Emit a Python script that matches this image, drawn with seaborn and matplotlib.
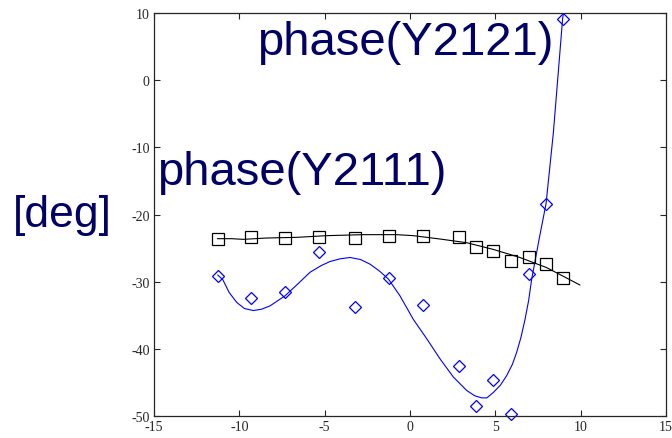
import pandas as pd
import matplotlib.pyplot as plt
import seaborn as sns

# measured points
x_pts = [-11.27, -9.31, -7.32, -5.31, -3.22, -1.21, 0.74, 2.85, 3.87, 4.88, 5.92, 6.95, 7.97, 8.96]
y2111 = [-23.6, -23.3, -23.5, -23.3, -23.5, -23.2, -23.2, -23.3, -24.9, -25.4, -26.9, -26.3, -27.4, -29.5]
y2121 = [-29.2, -32.4, -31.6, -25.6, -33.8, -29.5, -33.4, -42.5, -48.5, -44.7, -49.65, -28.9, -18.5, 9.1]

# fitted curves
fit1_x = [-11.29, -10.45, -9.77, -8.4, -6.64, -4.88, -2.73, -0.78, 0.19, 1.76, 3.32, 4.88, 6.44, 8.0, 9.96]
fit1_y = [-23.6, -23.6, -23.7, -23.5, -23.4, -23.15, -23.0, -23.0, -23.15, -23.65, -24.2, -25.2, -26.4, -27.9, -30.5]

fit2_x = [-11.27, -10.97, -10.6, -10.15, -9.7, -9.18, -8.7, -8.2, -7.32, -6.6, -5.86, -5.2, -4.69, -4.1,
          -3.51, -2.9, -2.34, -1.8, -1.27, -0.59, 0.19, 0.98, 1.76, 2.54, 3.32, 3.8, 4.2, 4.5, 4.88,
          5.3, 5.66, 6.0, 6.25, 6.5, 6.74, 6.95, 7.13, 7.35, 7.6, 7.97, 8.4, 8.94, 9.1]
fit2_y = [-29.0, -29.7, -31.6, -33.1, -34.0, -34.3, -34.1, -33.6, -32.1, -30.4, -28.6, -27.6, -27.0, -26.6,
          -26.4, -26.7, -27.4, -28.4, -29.6, -32.1, -35.6, -38.5, -41.5, -44.2, -46.2, -47.0, -47.3, -47.3, -46.5,
          -45.4, -44.0, -42.3, -40.5, -38.3, -35.6, -32.8, -29.6, -26.6, -23.2, -18.4, -7.8, 9.1, 12.0]

pts = pd.DataFrame({'x': x_pts, 'y2111': y2111, 'y2121': y2121})
fit1 = pd.DataFrame({'x': fit1_x, 'y': fit1_y})
fit2 = pd.DataFrame({'x': fit2_x, 'y': fit2_y})

sns.set_style('ticks')
plt.rcParams['xtick.direction'] = 'in'
plt.rcParams['ytick.direction'] = 'in'
plt.rcParams['axes.unicode_minus'] = False

fig = plt.figure(figsize=(6.72, 4.39), dpi=100)
ax = fig.add_axes([0.2292, 0.0501, 0.7619, 0.918])

sns.lineplot(data=fit1, x='x', y='y', color='black', linewidth=0.8, ax=ax)
sns.lineplot(data=fit2, x='x', y='y', color='#0000ff', linewidth=0.8, ax=ax)
ax.plot(pts['x'], pts['y2111'], 's', ms=8, mfc='none', mec='black', mew=0.9)
ax.plot(pts['x'], pts['y2121'], 'D', ms=6.5, mfc='none', mec='#0000ff', mew=0.9, clip_on=False)

ax.set_xlim(-15, 15)
ax.set_ylim(-50, 10)
ax.set_xticks(range(-15, 16, 5))
ax.set_yticks(range(-50, 11, 10))
ax.tick_params(top=True, right=True, length=4, width=0.8, labelsize=10, pad=3)
for lab in ax.get_xticklabels() + ax.get_yticklabels():
    lab.set_family('Liberation Serif')
for s in ax.spines.values():
    s.set_visible(True)
    s.set_linewidth(0.9)
ax.set_xlabel('')
ax.set_ylabel('')

navy = '#000066'
ax.text(-8.98, 3.9, 'phase(Y2121)', fontsize=34, color=navy, family='Liberation Sans', va='baseline')
ax.text(-14.8, -15.5, 'phase(Y2111)', fontsize=34, color=navy, family='Liberation Sans', va='baseline')
fig.text(13 / 672, 1 - 227 / 439, '[deg]', fontsize=32, color=navy, family='Liberation Sans', va='baseline')

fig.savefig('out.png', dpi=100)
